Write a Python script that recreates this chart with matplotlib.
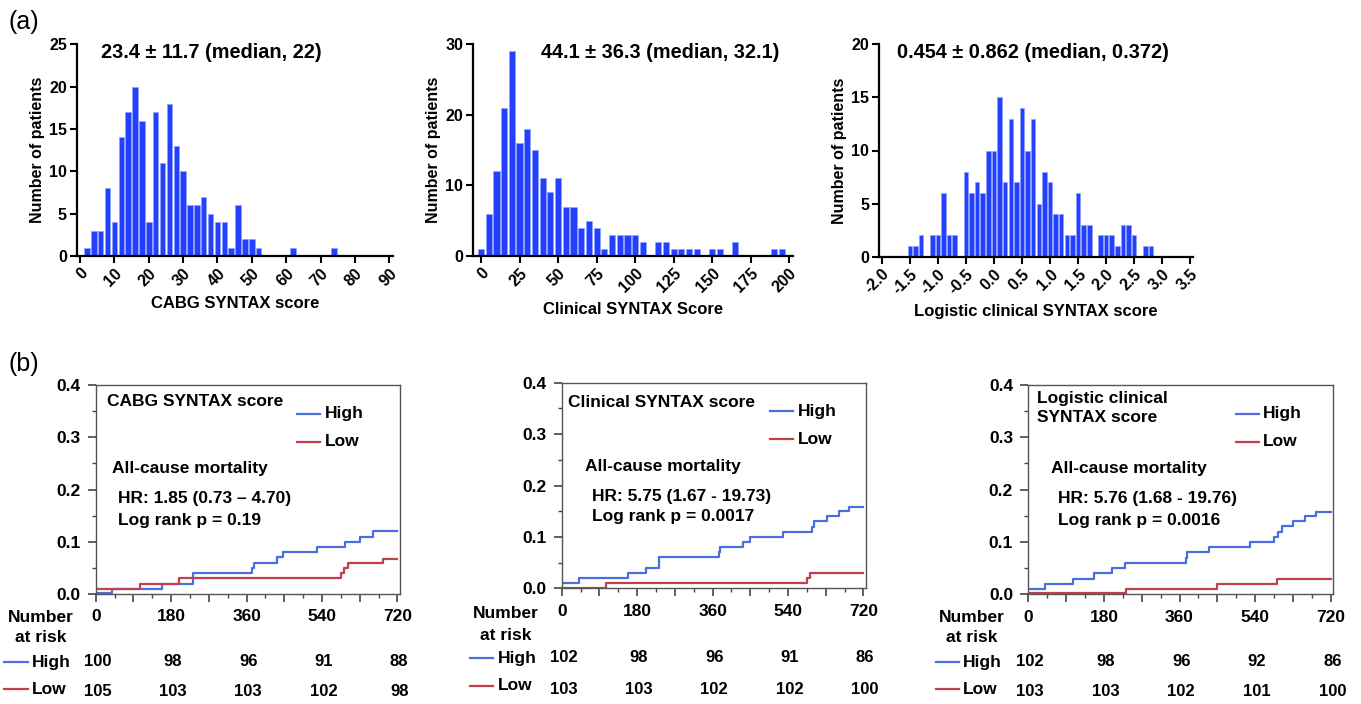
import numpy as np
import matplotlib
matplotlib.use("Agg")
import matplotlib.pyplot as plt
from matplotlib.lines import Line2D
from matplotlib.ticker import FixedLocator, MultipleLocator
from matplotlib.transforms import blended_transform_factory

plt.rcParams["font.family"] = ["Liberation Sans", "DejaVu Sans"]

W, H = 1361, 704

# ── Histogram data (bin starts, bin width, counts) ───────────────────────────
CABG_START, CABG_BIN = 2, 2
CABG_COUNTS = [1, 3, 3, 8, 4, 14, 17, 20, 16, 4, 17, 11, 18, 13, 10, 6, 6, 7, 5,
               4, 4, 1, 6, 2, 2, 1, 0, 0, 0, 0, 1, 0, 0, 0, 0, 0, 1]

CLIN_START, CLIN_BIN = 0, 5
CLIN_COUNTS = [1, 6, 12, 21, 29, 16, 18, 15, 11, 9, 11, 7, 7, 4, 5, 4, 1, 3, 3, 3,
               3, 2, 0, 2, 2, 1, 1, 1, 1, 0, 1, 1, 0, 2, 0, 0, 0, 0, 1, 1]

LOG_START, LOG_BIN = -1.5, 0.1
LOG_COUNTS = [1, 1, 2, 0, 2, 2, 6, 2, 2, 0, 8, 6, 7, 6, 10, 10, 15, 7, 13, 7, 14,
              10, 13, 5, 8, 7, 4, 4, 2, 2, 6, 3, 3, 0, 2, 2, 2, 1, 3, 3, 2, 0, 1, 1]

HIST_TITLES = ["23.4 \u00b1 11.7 (median, 22)",
               "44.1 \u00b1 36.3 (median, 32.1)",
               "0.454 \u00b1 0.862 (median, 0.372)"]
HIST_XLABELS = ["CABG SYNTAX score", "Clinical SYNTAX Score",
                "Logistic clinical SYNTAX score"]

# ── Kaplan-Meier data (days, cumulative incidence) ───────────────────────────
KM1_HIGH_T = [0, 40, 159, 231, 374, 378, 432, 448, 529, 595, 631, 661, 720]
KM1_HIGH_Y = [0.002, 0.01, 0.02, 0.04, 0.05, 0.06, 0.07, 0.08, 0.09, 0.10, 0.11, 0.12, 0.12]
KM1_LOW_T = [0, 106, 199, 585, 592, 602, 685, 720]
KM1_LOW_Y = [0.01, 0.02, 0.03, 0.04, 0.05, 0.06, 0.067, 0.067]

KM2_HIGH_T = [0, 41, 157, 200, 232, 375, 378, 432, 449, 529, 597, 603, 632, 662, 686, 720]
KM2_HIGH_Y = [0.01, 0.02, 0.03, 0.04, 0.06, 0.07, 0.08, 0.09, 0.10, 0.11, 0.12, 0.13,
              0.14, 0.15, 0.158, 0.158]
KM2_LOW_T = [0, 106, 585, 593, 720]
KM2_LOW_Y = [0.001, 0.01, 0.02, 0.03, 0.03]

KM3_HIGH_T = [0, 40, 107, 156, 200, 229, 375, 377, 429, 528, 584, 594, 604, 630, 659, 685, 720]
KM3_HIGH_Y = [0.01, 0.02, 0.03, 0.04, 0.05, 0.06, 0.07, 0.08, 0.09, 0.10, 0.11, 0.12,
              0.13, 0.14, 0.15, 0.158, 0.158]
KM3_LOW_T = [0, 232, 448, 593, 720]
KM3_LOW_Y = [0.002, 0.01, 0.02, 0.03, 0.03]

RISK_TIMES = [0, 180, 360, 540, 720]
RISK1_HIGH = [100, 98, 96, 91, 88]
RISK1_LOW = [105, 103, 103, 102, 98]
RISK2_HIGH = [102, 98, 96, 91, 86]
RISK2_LOW = [103, 103, 102, 102, 100]
RISK3_HIGH = [102, 98, 96, 92, 86]
RISK3_LOW = [103, 103, 102, 101, 100]

KM_TITLES = ["CABG SYNTAX score", "Clinical SYNTAX score", "Logistic clinical\nSYNTAX score"]
KM_HR = ["HR: 1.85 (0.73 \u2013 4.70)", "HR: 5.75 (1.67 - 19.73)", "HR: 5.76 (1.68 - 19.76)"]
KM_P = ["Log rank p = 0.19", "Log rank p = 0.0017", "Log rank p = 0.0016"]

BAR_COLOR = "#2340ff"
HIGH_COLOR = "#4a6ee0"
LOW_COLOR = "#c0404c"


def fx(x):
    return x / W


def fy(y):
    return 1 - y / H


def px_axes(fig, left, right, top, bottom):
    return fig.add_axes([fx(left), fy(bottom), (right - left) / W, (bottom - top) / H])


fig = plt.figure(figsize=(W / 100, H / 100), dpi=100)

# ── (a) histograms ───────────────────────────────────────────────────────────
hist_specs = [
    # counts, start, bin, box(px), xlim, ymax, xticks, yticks, fmt, title_x
    (CABG_COUNTS, CABG_START, CABG_BIN, (76.7, 393.3, 44.3, 256), (-1, 91.2), 25,
     np.arange(0, 91, 10), np.arange(0, 26, 5), "{:.0f}", 101),
    (CLIN_COUNTS, CLIN_START, CLIN_BIN, (473, 793.3, 44.3, 256), (-5.2, 202.6), 30,
     np.arange(0, 201, 25), np.arange(0, 31, 10), "{:.0f}", 541),
    (LOG_COUNTS, LOG_START, LOG_BIN, (879, 1193, 44.3, 256.7), (-2.05, 3.55), 20,
     np.arange(-2.0, 3.51, 0.5), np.arange(0, 21, 5), "{:.1f}", 897),
]

for i, (counts, start, width, box, xlim, ymax, xt, yt, fmt, tx) in enumerate(hist_specs):
    ax = px_axes(fig, *box)
    centers = start + width * np.arange(len(counts))
    ax.bar(centers, counts, width=width * 0.8, color=BAR_COLOR,
           edgecolor="#8fa0ff", linewidth=0.4)
    ax.set_xlim(*xlim)
    ax.set_ylim(0, ymax)
    ax.set_xticks(xt)
    ax.set_xticklabels([fmt.format(v) for v in xt], rotation=45, ha="right",
                       rotation_mode="anchor", fontsize=11.5, fontweight="bold")
    ax.set_yticks(yt)
    ax.set_yticklabels([f"{v:.0f}" for v in yt], fontsize=11.5, fontweight="bold")
    for s in ["top", "right"]:
        ax.spines[s].set_visible(False)
    for s in ["left", "bottom"]:
        ax.spines[s].set_linewidth(1.6)
    ax.tick_params(direction="out", length=5, width=1.5, pad=2)
    ax.set_xlabel(HIST_XLABELS[i], fontsize=12, fontweight="bold", labelpad=5)
    ax.set_ylabel("Number of patients", fontsize=11.5, fontweight="bold", labelpad=3)
    fig.text(fx(tx), fy(53), HIST_TITLES[i], fontsize=14.3, fontweight="bold",
             ha="left", va="center")

fig.text(fx(8), fy(22), "(a)", fontsize=18, ha="left", va="center")
fig.text(fx(8), fy(364), "(b)", fontsize=18, ha="left", va="center")

# ── (b) Kaplan-Meier panels ──────────────────────────────────────────────────
km_specs = [
    dict(box=(95.7, 400, 385, 594), high=(KM1_HIGH_T, KM1_HIGH_Y), low=(KM1_LOW_T, KM1_LOW_Y),
         risk=(RISK1_HIGH, RISK1_LOW), title=(106.7, 401), leg=(296.7, 320, 325, 414, 442),
         mort=(111.7, 469), hr=(118.3, 499, 520), num=(41, 617, 637),
         rleg=(4, 28.3, 32.3, 662, 689), rows=(662, 692)),
    dict(box=(561.7, 866, 382.7, 588.3), high=(KM2_HIGH_T, KM2_HIGH_Y), low=(KM2_LOW_T, KM2_LOW_Y),
         risk=(RISK2_HIGH, RISK2_LOW), title=(568.3, 403), leg=(770, 793.3, 797.7, 411, 439),
         mort=(585, 467), hr=(592.3, 496, 517), num=(506, 613, 635),
         rleg=(470, 493.3, 497.7, 658, 686), rows=(658, 689)),
    dict(box=(1028.3, 1333.3, 385, 594.3), high=(KM3_HIGH_T, KM3_HIGH_Y), low=(KM3_LOW_T, KM3_LOW_Y),
         risk=(RISK3_HIGH, RISK3_LOW), title=(1036.7, 408), leg=(1236, 1259.3, 1263.3, 414, 442),
         mort=(1051, 469), hr=(1058.3, 499, 520), num=(972, 617, 637),
         rleg=(935.7, 959.3, 963.3, 662, 689), rows=(662, 692)),
]

FS = 12.5
for i, sp in enumerate(km_specs):
    ax = px_axes(fig, *sp["box"])
    ax.step(sp["high"][0], sp["high"][1], where="post", color=HIGH_COLOR, lw=1.6)
    ax.step(sp["low"][0], sp["low"][1], where="post", color=LOW_COLOR, lw=1.6)
    ax.set_xlim(0, 726)
    ax.set_ylim(0, 0.4)
    major = np.arange(0, 721, 90)
    ax.xaxis.set_major_locator(FixedLocator(major))
    ax.set_xticklabels([f"{v:.0f}" if v % 180 == 0 else "" for v in major],
                       fontsize=FS, fontweight="bold")
    ax.xaxis.set_minor_locator(FixedLocator(np.arange(45, 721, 90)))
    ax.yaxis.set_minor_locator(MultipleLocator(0.05))
    ax.set_yticks(np.arange(0, 0.41, 0.1))
    ax.set_yticklabels([f"{v:.1f}" for v in np.arange(0, 0.41, 0.1)],
                       fontsize=FS, fontweight="bold")
    for s in ax.spines.values():
        s.set_color("#555555")
        s.set_linewidth(1.0)
    ax.tick_params(which="major", direction="out", length=6, width=1.2,
                   color="#444444", pad=5)
    ax.tick_params(which="minor", direction="out", length=3, width=1.0, color="#444444")

    tx, ty = sp["title"]
    fig.text(fx(tx), fy(ty), KM_TITLES[i], fontsize=FS, fontweight="bold",
             ha="left", va="center", linespacing=1.25)
    x1, x2, xt, yh, yl = sp["leg"]
    fig.add_artist(Line2D([fx(x1), fx(x2)], [fy(yh), fy(yh)], color=HIGH_COLOR, lw=1.6))
    fig.add_artist(Line2D([fx(x1), fx(x2)], [fy(yl), fy(yl)], color=LOW_COLOR, lw=1.6))
    fig.text(fx(xt), fy(yh), "High", fontsize=FS, fontweight="bold", ha="left", va="center")
    fig.text(fx(xt), fy(yl), "Low", fontsize=FS, fontweight="bold", ha="left", va="center")
    mx, my = sp["mort"]
    fig.text(fx(mx), fy(my), "All-cause mortality", fontsize=FS, fontweight="bold",
             ha="left", va="center")
    hx, hy1, hy2 = sp["hr"]
    fig.text(fx(hx), fy(hy1), KM_HR[i], fontsize=FS, fontweight="bold", ha="left", va="center")
    fig.text(fx(hx), fy(hy2), KM_P[i], fontsize=FS, fontweight="bold", ha="left", va="center")

    nx, ny1, ny2 = sp["num"]
    fig.text(fx(nx), fy(ny1), "Number", fontsize=FS, fontweight="bold", ha="center", va="center")
    fig.text(fx(nx), fy(ny2), "at risk", fontsize=FS, fontweight="bold", ha="center", va="center")
    r1, r2, rt, rh, rl = sp["rleg"]
    fig.add_artist(Line2D([fx(r1), fx(r2)], [fy(rh), fy(rh)], color=HIGH_COLOR, lw=1.6))
    fig.add_artist(Line2D([fx(r1), fx(r2)], [fy(rl), fy(rl)], color=LOW_COLOR, lw=1.6))
    fig.text(fx(rt), fy(rh), "High", fontsize=FS, fontweight="bold", ha="left", va="center")
    fig.text(fx(rt), fy(rl), "Low", fontsize=FS, fontweight="bold", ha="left", va="center")

    trans = blended_transform_factory(ax.transData, fig.transFigure)
    yh_row, yl_row = sp["rows"]
    high_vals, low_vals = sp["risk"]
    for t, vh, vl in zip(RISK_TIMES, high_vals, low_vals):
        ax.text(t + 4, fy(yh_row), str(vh), transform=trans, fontsize=FS - 0.5,
                fontweight="bold", ha="center", va="center", clip_on=False)
        ax.text(t + 4, fy(yl_row), str(vl), transform=trans, fontsize=FS - 0.5,
                fontweight="bold", ha="center", va="center", clip_on=False)

fig.savefig("out.png", dpi=100)
